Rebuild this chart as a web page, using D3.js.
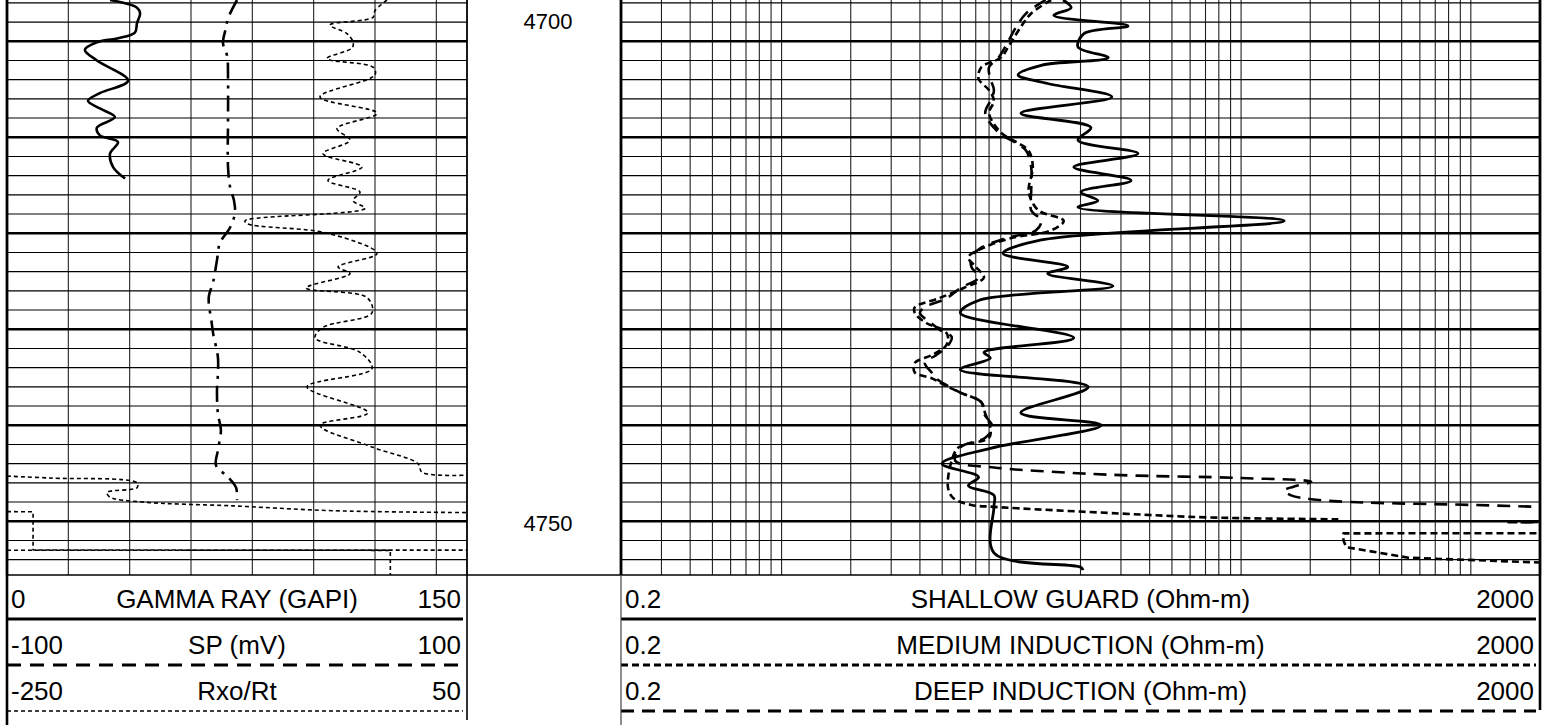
<!DOCTYPE html>
<html><head><meta charset="utf-8">
<script src="https://cdn.jsdelivr.net/npm/d3@7"></script>
<style>
body{margin:0;background:#fff;}
svg{display:block;}
text{font-family:"Liberation Sans",Arial,sans-serif;fill:#000;}
</style>
</head><body>
<svg id="c" width="1554" height="725"></svg>
<script>
// ---------------- DATA ----------------
const depthDomain = [4695.7, 4755.6];
const depthLabels = [4700, 4750];

const leftTitles = ["GAMMA RAY (GAPI)", "SP (mV)", "Rxo/Rt"];
const leftMins = ["0", "-100", "-250"];
const leftMaxs = ["150", "100", "50"];
const rightTitles = ["SHALLOW GUARD (Ohm-m)", "MEDIUM INDUCTION (Ohm-m)", "DEEP INDUCTION (Ohm-m)"];
const rightMins = ["0.2", "0.2", "0.2"];
const rightMaxs = ["2000", "2000", "2000"];

const grRange = [0, 150];
const spRange = [-100, 100];
const rxoRange = [-250, 50];
const resRange = [0.2, 2000];

const grDepth = [4695.7,4696.5,4697.1,4698.1,4699.1,4699.7,4700.1,4700.9,4702.0,4704.1,4705.4,4706.2,4707.0,4707.9,4709.0,4709.8,4710.5,4711.7,4713.1,4714.3];
const grValue = [33.6,42.4,43.4,42.4,41.7,35.9,29.3,25.4,29.3,39.5,30.3,26.4,30.3,35.2,29.3,30.3,36.2,33.6,34.6,38.5];

const spDepth = [4695.7,4697.6,4698.6,4700.2,4701.5,4703.8,4707.9,4713.1,4715.2,4716.6,4717.9,4719.4,4721.0,4722.8,4725.1,4726.5,4727.5,4728.8,4730.4,4732.9,4734.6,4736.4,4738.8,4740.5,4742.6,4744.2,4745.4,4746.5,4747.8];
const spValue = [0.0,-3.9,-4.8,-6.1,-4.3,-3.9,-3.9,-3.9,-3.0,-1.3,-0.9,-3.0,-7.4,-8.7,-10.4,-12.2,-12.2,-11.3,-10.4,-8.3,-8.3,-8.7,-8.3,-7.0,-8.3,-9.1,-3.9,-0.4,0.0];

// null entries mark a break in the trace (off-scale wrap)
const rxoDepth = [4695.7,4696.8,4697.5,4698.3,4699.2,4700.1,4700.7,4701.8,4702.7,4703.5,4705.8,4707.5,4709.1,4710.3,4711.7,4713.1,4714.5,4715.7,4716.6,4717.4,4718.7,4719.0,4720.0,4722.1,4723.5,4724.2,4725.7,4726.7,4728.3,4729.8,4730.9,4732.4,4734.1,4736.0,4738.7,4740.0,4742.3,4744.0,4744.9,4745.2,
  null,4745.3,4745.5,4746.0,4746.5,4747.0,4747.5,4748.0,4748.4,4748.9,4749.1,
  null,4749.0,4749.01,4753.0,4753.01,
  null,4753.02,4753.03,4755.6];
const rxoValue = [-2.2,-10.0,-11.3,-39.3,-28.3,-24.3,-25.0,-41.3,-11.3,-10.0,-45.9,-8.7,-34.8,-26.3,-43.9,-18.5,-40.7,-19.8,-24.3,-16.5,-94.8,-93.5,-40.7,-8.7,-34.1,-26.3,-55.0,-15.2,-12.0,-43.9,-49.1,-19.8,-12.0,-54.3,-14.6,-45.9,-11.3,18.0,20.7,50,
  null,-250,-222.0,-165.2,-165.2,-184.8,-182.8,-161.3,-102.6,-37.4,50,
  null,-250,-233,-233,50,
  null,-250,0,0];

const sgDepth = [4695.7,4696.5,4697.3,4698.4,4699.2,4700.6,4701.7,4702.5,4703.5,4704.4,4705.8,4707.5,4709.0,4710.3,4711.7,4713.1,4714.5,4715.7,4716.6,4717.3,4718.7,4720.7,4722.1,4723.5,4724.2,4725.5,4727.0,4728.3,4730.9,4732.4,4733.0,4734.2,4736.0,4738.7,4740.0,4742.4,4744.0,4745.4,4746.3,4747.3,4748.5,4753.3,4754.8,4755.1];
const sgValue = [16.8,18.2,15.3,32.2,20.7,19.5,26.4,13.5,10.7,14.4,27.4,11.0,22.2,19.5,35.6,18.7,33.2,20.1,23.8,19.5,154,13.5,9.2,17.6,14.4,27.7,7.2,6.0,18.7,7.6,8.1,6.0,21.6,11.0,24.6,8.1,5.0,7.2,6.5,8.4,8.4,8.4,20.1,20.5];

const mediumDepth = [4695.7,4697.1,4698.5,4700.4,4701.7,4702.7,4703.9,4705.1,4706.2,4707.5,4709.5,4710.6,4711.4,4713.1,4715.7,4717.6,4718.7,4719.7,4720.5,4721.5,4722.5,4723.5,4724.6,4725.7,4726.8,4727.7,4728.3,4729.4,4730.1,4730.8,4731.7,4732.7,4733.5,4734.5,4735.1,4735.8,4736.6,4737.6,4738.8,4740.2,4741.3,4742.3,4743.7,4746.5,4747.6,4748.3,4748.5,4749.2,4749.6,4749.8,
  null,4751.25,4751.26,4752.0,4752.7,4753.8,4754.3,4754.4];
const mediumValue = [14.9,12.2,11.0,9.8,9.0,7.4,7.2,8.0,8.4,8.0,9.0,10.7,11.9,12.4,11.9,13.1,16.9,14.9,10.0,7.6,6.5,7.0,7.6,6.2,4.8,3.8,3.8,4.3,5.1,5.3,5.2,4.5,3.8,3.8,4.5,5.1,6.0,7.4,7.7,8.1,8.0,5.9,5.5,5.3,5.6,6.7,8.4,30.0,72,265,
  null,3000,279,279,287,535,2000,3000];

const deepDepth = [4695.7,4697.1,4698.5,4700.4,4701.7,4702.7,4703.9,4705.1,4706.2,4707.5,4709.5,4710.6,4711.4,4713.1,4715.7,4717.6,4718.7,4719.7,4720.5,4721.5,4722.5,4723.5,4724.6,4725.7,4726.8,4727.7,4728.3,4729.4,4730.1,4730.8,4731.7,4732.7,4733.5,4734.5,4735.1,4735.8,4736.6,4737.6,4738.8,4740.2,4741.3,4742.3,4743.7,4744.4,4744.9,4745.2,4745.5,4745.9,4746.4,4746.8,4747.3,4747.7,4748.0,4748.3,4748.5,4748.6,
  null,4750.05,4750.1,4750.16];
const deepValue = [14.1,11.6,10.5,9.5,8.8,8.0,8.1,8.4,8.1,7.7,8.8,10.5,11.6,12.2,12.2,12.2,13.5,12.8,9.5,7.4,6.7,6.7,7.2,6.0,5.2,4.2,4.0,4.5,4.9,5.5,5.3,4.7,4.2,4.5,4.7,5.2,6.0,7.4,7.6,8.3,7.7,6.0,5.7,8.4,16.4,30.0,100,202,169,154,165,202,302,1006,2000,3000,
  null,3000,1458,3000];

// ---------------- LAYOUT ----------------
const svg = d3.select("#c");
const plotTop = 0, plotBottom = 575;
const LT = {x0: 7, x1: 467};
const RT = {x0: 621, x1: 1540};

const y = d3.scaleLinear().domain(depthDomain).range([plotTop, plotBottom]);
const grX = d3.scaleLinear().domain(grRange).range([LT.x0, LT.x1]);
const spX = d3.scaleLinear().domain(spRange).range([LT.x0, LT.x1]);
const rxoX = d3.scaleLinear().domain(rxoRange).range([LT.x0, LT.x1]);
const resX = d3.scaleLog().domain(resRange).range([RT.x0, RT.x1]);

const defs = svg.append("defs");
defs.append("clipPath").attr("id","clipL").append("rect")
  .attr("x",LT.x0).attr("y",plotTop).attr("width",LT.x1-LT.x0).attr("height",plotBottom-plotTop);
defs.append("clipPath").attr("id","clipR").append("rect")
  .attr("x",RT.x0).attr("y",plotTop).attr("width",RT.x1-RT.x0).attr("height",plotBottom-plotTop);

const depthGrid = d3.range(Math.ceil(depthDomain[0]/2)*2, depthDomain[1], 2);

function drawGrid(g, xs, x0, x1) {
  g.selectAll("line.v").data(xs).join("line").attr("class","v")
    .attr("x1",d=>d).attr("x2",d=>d).attr("y1",plotTop).attr("y2",plotBottom)
    .attr("stroke","#222").attr("stroke-width",1.1);
  g.selectAll("line.h").data(depthGrid).join("line").attr("class","h")
    .attr("x1",x0).attr("x2",x1).attr("y1",d=>y(d)).attr("y2",d=>y(d))
    .attr("stroke","#000")
    .attr("stroke-width",d=> d%10===0 ? 2.6 : 1.1);
}

const gL = svg.append("g");
drawGrid(gL, grX.ticks(10).map(grX), LT.x0, LT.x1);
const gR = svg.append("g");
drawGrid(gR, resX.ticks().filter(v=>v>resRange[0]&&v<resRange[1]).map(resX), RT.x0, RT.x1);

[[LT.x0,2.8],[LT.x1,1.8],[RT.x0,2.8],[RT.x1,2.8]].forEach(([x,w])=>{
  svg.append("line").attr("x1",x).attr("x2",x).attr("y1",plotTop).attr("y2",plotBottom)
    .attr("stroke","#000").attr("stroke-width",w);
});

// depth labels
svg.selectAll("text.depth").data(depthLabels).join("text").attr("class","depth")
  .attr("x",(LT.x1+RT.x0)/2+4).attr("y",(d,i)=> y(d) + (i===0 ? -12 : 10))
  .attr("text-anchor","middle").attr("font-size",22).text(d=>d);

// ---------------- CURVES ----------------
function segmentsOf(depth, value){
  const segs = [[]];
  depth.forEach((d,i)=>{
    if (d==null || value[i]==null) { if (segs[segs.length-1].length) segs.push([]); }
    else segs[segs.length-1].push({d:d, v:value[i]});
  });
  return segs.filter(s=>s.length>1);
}
function drawCurve(clip, xScale, depth, value, width, dash){
  segmentsOf(depth, value).forEach(seg=>{
    // segments with near-coincident depths (off-scale jumps) are drawn straight
    const sharp = seg.some((p,i)=> i>0 && Math.abs(p.d-seg[i-1].d) < 0.08);
    const line = d3.line().x(p=>xScale(p.v)).y(p=>y(p.d))
      .curve(sharp ? d3.curveLinear : d3.curveCatmullRom.alpha(0.5));
    svg.append("path").attr("clip-path",`url(#${clip})`)
      .attr("d", line(seg))
      .attr("fill","none").attr("stroke","#000").attr("stroke-width",width)
      .attr("stroke-dasharray",dash||null)
      .attr("stroke-linejoin","round");
  });
}
drawCurve("clipL", grX, grDepth, grValue, 2.6, null);
drawCurve("clipL", spX, spDepth, spValue, 2.6, "16,7,3,7");
drawCurve("clipL", rxoX, rxoDepth, rxoValue, 1.6, "4,3");
drawCurve("clipR", resX, sgDepth, sgValue, 2.8, null);
drawCurve("clipR", resX, mediumDepth, mediumValue, 2.6, "7,4");
drawCurve("clipR", resX, deepDepth, deepValue, 2.6, "13,8");

// ---------------- HEADER ----------------
const hTop = plotBottom;
svg.append("line").attr("x1",LT.x0).attr("x2",RT.x1).attr("y1",hTop).attr("y2",hTop)
  .attr("stroke","#000").attr("stroke-width",1.4);
const rowBase = [608, 654, 700];
const rowLine = [619, 665, 711];
const leftStyles = [{w:3,dash:null},{w:3,dash:"14,9"},{w:1.6,dash:"4,3"}];
const rightStyles = [{w:3,dash:null},{w:3,dash:"7,4"},{w:3,dash:"13,8"}];
const fs = 26;

function header(x0, x1, mins, titles, maxs, styles){
  const g = svg.append("g");
  titles.forEach((t,i)=>{
    g.append("text").attr("x",x0+4).attr("y",rowBase[i]).attr("font-size",fs).text(mins[i]);
    g.append("text").attr("x",(x0+x1)/2).attr("y",rowBase[i]).attr("font-size",fs)
      .attr("text-anchor","middle").text(t);
    g.append("text").attr("x",x1-6).attr("y",rowBase[i]).attr("font-size",fs)
      .attr("text-anchor","end").text(maxs[i]);
    g.append("line").attr("x1",x0).attr("x2",x1-4).attr("y1",rowLine[i]).attr("y2",rowLine[i])
      .attr("stroke","#000").attr("stroke-width",styles[i].w)
      .attr("stroke-dasharray",styles[i].dash);
  });
}
header(LT.x0, LT.x1, leftMins, leftTitles, leftMaxs, leftStyles);
header(RT.x0, RT.x1, rightMins, rightTitles, rightMaxs, rightStyles);

svg.append("line").attr("x1",LT.x0).attr("x2",LT.x0).attr("y1",hTop).attr("y2",725).attr("stroke","#000").attr("stroke-width",2.6);
svg.append("line").attr("x1",LT.x1).attr("x2",LT.x1).attr("y1",hTop).attr("y2",720).attr("stroke","#000").attr("stroke-width",1.6);
svg.append("line").attr("x1",RT.x0).attr("x2",RT.x0).attr("y1",hTop).attr("y2",725).attr("stroke","#444").attr("stroke-width",1.2);
svg.append("line").attr("x1",RT.x1).attr("x2",RT.x1).attr("y1",hTop).attr("y2",710).attr("stroke","#000").attr("stroke-width",2.6);
</script>
</body></html>
